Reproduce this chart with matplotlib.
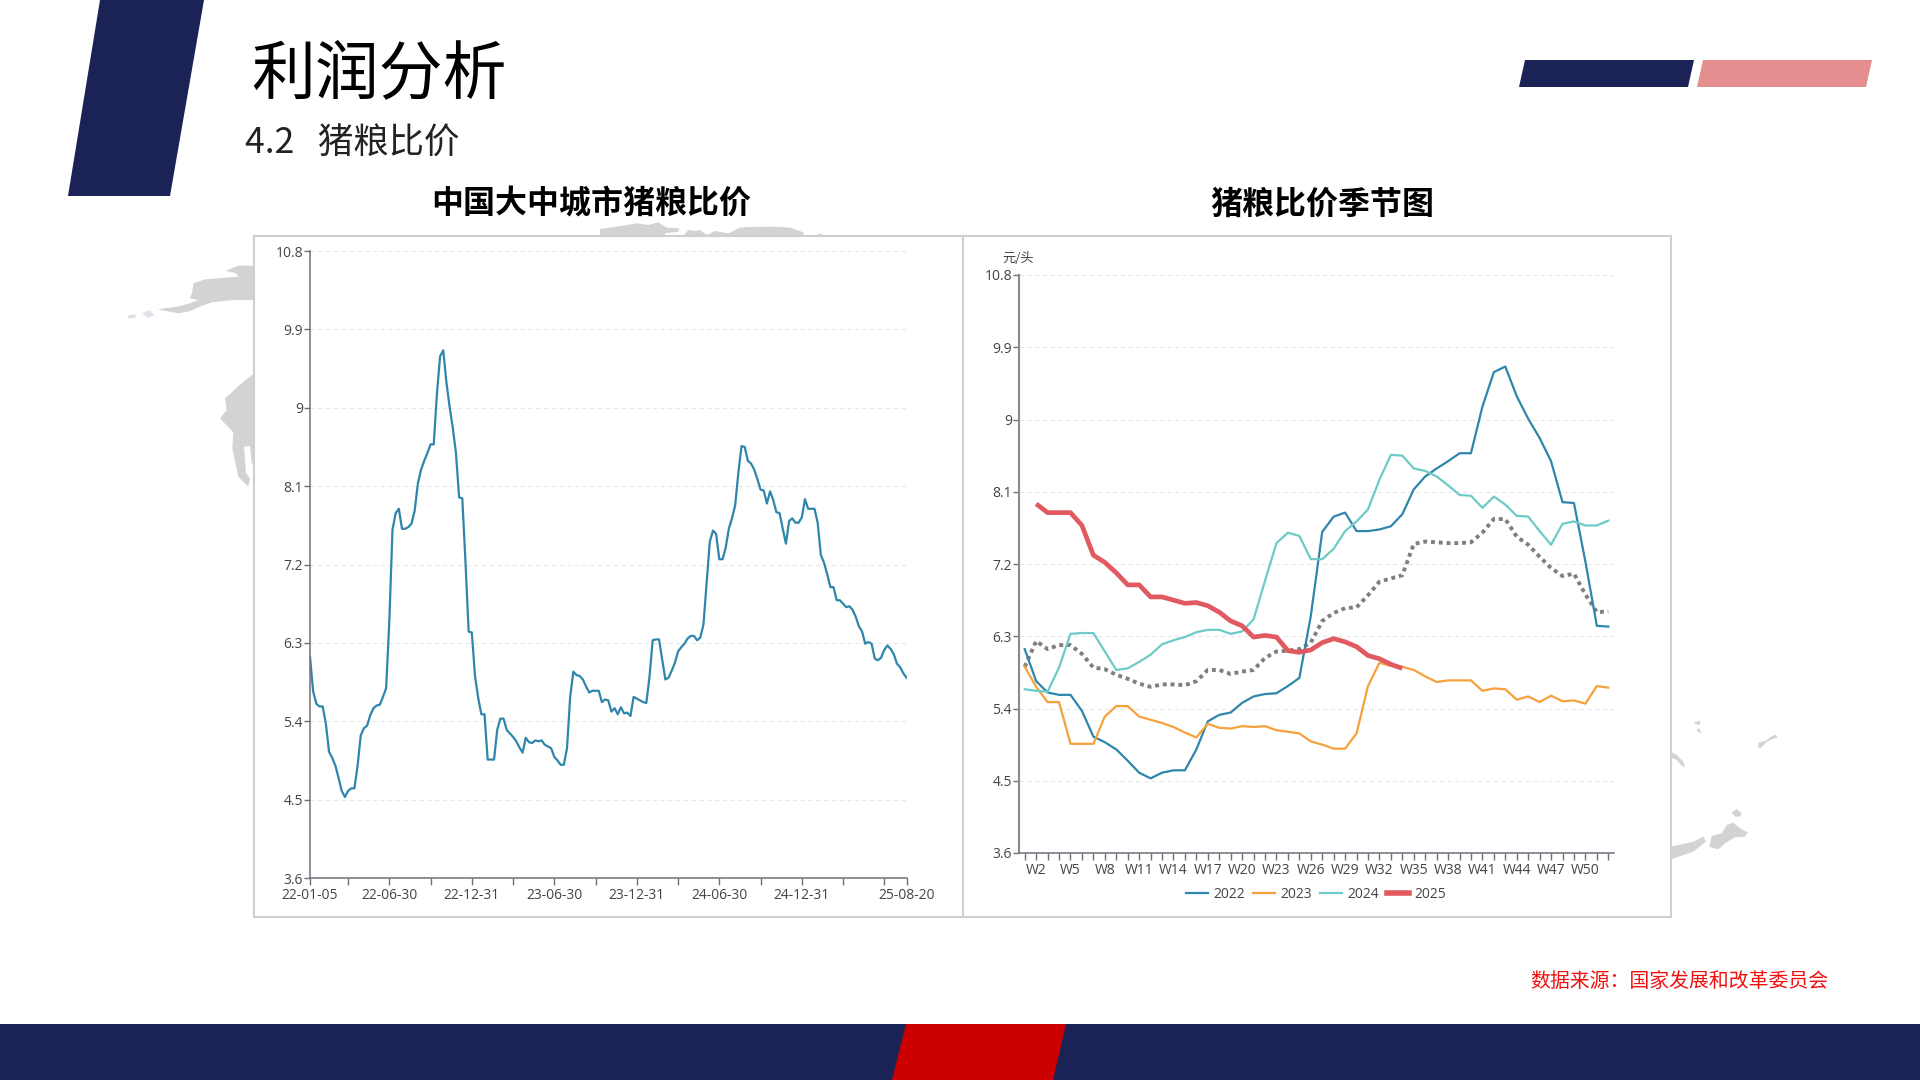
import matplotlib
matplotlib.use("Agg")
import matplotlib.pyplot as plt
from matplotlib.patches import Polygon, Rectangle
from matplotlib.lines import Line2D

plt.rcParams['font.family'] = ['Open Sans', 'Noto Sans CJK SC', 'DejaVu Sans']

# === DATA ===
WEEKS = [f"W{i}" for i in range(1, 53)]
Y_TICKS = [3.6, 4.5, 5.4, 6.3, 7.2, 8.1, 9, 9.9, 10.8]
Y_LABELS = ["3.6", "4.5", "5.4", "6.3", "7.2", "8.1", "9", "9.9", "10.8"]

y2022 = [6.14, 5.74, 5.60, 5.57, 5.57, 5.37, 5.05, 4.98, 4.89, 4.75, 4.60, 4.53, 4.60,
         4.63, 4.63, 4.89, 5.24, 5.32, 5.35, 5.47, 5.55, 5.58, 5.59, 5.68, 5.78, 6.55,
         7.60, 7.79, 7.84, 7.61, 7.61, 7.63, 7.67, 7.82, 8.13, 8.29, 8.39, 8.48, 8.58,
         8.58, 9.16, 9.59, 9.66, 9.29, 9.01, 8.77, 8.48, 7.97, 7.96, 7.23, 6.43, 6.42]
y2023 = [5.92, 5.67, 5.48, 5.48, 4.96, 4.96, 4.96, 5.30, 5.43, 5.43, 5.30, 5.26, 5.22,
         5.17, 5.10, 5.04, 5.21, 5.16, 5.15, 5.18, 5.17, 5.18, 5.13, 5.11, 5.09, 4.99,
         4.95, 4.90, 4.90, 5.09, 5.68, 5.97, 5.93, 5.92, 5.88, 5.80, 5.73, 5.75, 5.75,
         5.75, 5.62, 5.65, 5.64, 5.51, 5.55, 5.48, 5.56, 5.49, 5.50, 5.46, 5.68, 5.66]
y2024 = [5.64, 5.62, 5.61, 5.91, 6.33, 6.34, 6.34, 6.11, 5.88, 5.90, 5.98, 6.07, 6.20,
         6.25, 6.29, 6.35, 6.38, 6.38, 6.33, 6.36, 6.51, 6.99, 7.46, 7.59, 7.55, 7.26,
         7.26, 7.39, 7.61, 7.73, 7.88, 8.25, 8.56, 8.55, 8.39, 8.36, 8.29, 8.18, 8.06,
         8.05, 7.90, 8.04, 7.94, 7.80, 7.79, 7.61, 7.44, 7.70, 7.73, 7.68, 7.68, 7.74]
y2025 = [7.95, 7.84, 7.84, 7.84, 7.68, 7.31, 7.22, 7.09, 6.94, 6.94, 6.79, 6.79, 6.75,
         6.71, 6.72, 6.68, 6.60, 6.49, 6.43, 6.29, 6.31, 6.29, 6.12, 6.10, 6.13, 6.22,
         6.27, 6.23, 6.17, 6.06, 6.02, 5.95, 5.90]
y_mean = [5.92, 6.24, 6.14, 6.19, 6.19, 6.08, 5.91, 5.89, 5.82, 5.77, 5.71, 5.67, 5.70,
          5.70, 5.69, 5.74, 5.88, 5.88, 5.83, 5.86, 5.88, 6.03, 6.11, 6.12, 6.14, 6.22,
          6.49, 6.59, 6.65, 6.66, 6.81, 6.98, 7.02, 7.06, 7.45, 7.48, 7.47, 7.46, 7.46,
          7.47, 7.59, 7.76, 7.76, 7.54, 7.44, 7.29, 7.15, 7.05, 7.08, 6.82, 6.60, 6.61]

# the long chart is the same weekly series end to end
ratio = y2022 + y2023 + y2024 + y2025
DATE_TICKS = [0, 12, 25, 38, 51, 64, 77, 90, 103, 116, 129, 142, 155, 168, 181, 188]
DATE_LABELS = {0: "22-01-05", 25: "22-06-30", 51: "22-12-31", 77: "23-06-30",
               103: "23-12-31", 129: "24-06-30", 155: "24-12-31", 188: "25-08-20"}

# === COLORS ===
NAVY = "#1B2255"
RED = "#CC0000"
PINK = "#E58E90"
MAP_GRAY = "#D3D3D5"
BLUE = "#2E86AB"
ORANGE = "#F7A13C"
TEAL = "#6CCBC6"
CORAL = "#E05A60"
TEXT = "#444444"
AXIS = "#6E7079"
GRID = "#E6E8EE"

W, H = 1920, 1080
fig = plt.figure(figsize=(19.2, 10.8), dpi=100, facecolor="white")

# pixel canvas for the slide furniture
bg = fig.add_axes([0, 0, 1, 1])
bg.set_xlim(0, W)
bg.set_ylim(H, 0)
bg.set_axis_off()


def poly(points, color, z=1):
    bg.add_patch(Polygon(points, closed=True, facecolor=color, edgecolor="none", zorder=z))


def crop_poly(points, x0, y0, color=MAP_GRAY):
    poly([(x0 + x / 3, y0 + y / 3) for x, y in points], color)


# === MAP FRAGMENTS ===
crop_poly([(347, 62), (385, 47), (430, 47), (430, 150), (370, 150), (305, 157), (265, 172),
           (240, 183), (205, 190), (143, 178), (200, 170), (240, 160), (265, 150), (240, 145),
           (247, 125), (250, 100), (285, 88), (385, 80), (378, 70)], 110, 250)
crop_poly([(97, 190), (118, 180), (133, 195), (115, 204)], 110, 250, "#E0E0EA")
crop_poly([(52, 197), (75, 193), (78, 203), (55, 206)], 110, 250, "#E0E0EA")
crop_poly([(430, 372), (395, 400), (345, 445), (350, 480), (330, 505), (370, 547), (367, 595),
           (385, 680), (415, 710), (420, 685), (408, 670), (402, 590), (420, 588), (425, 640),
           (430, 640)], 110, 250)
crop_poly([(33, 155), (50, 165), (70, 185), (75, 203), (65, 197), (50, 180), (33, 172)], 1660, 700)
crop_poly([(100, 68), (120, 62), (120, 75), (108, 73)], 1660, 700)
crop_poly([(110, 88), (118, 85), (123, 100), (115, 97)], 1660, 700)
crop_poly([(295, 128), (318, 122), (330, 112), (345, 104), (354, 112), (335, 118), (318, 128),
           (300, 146), (295, 142)], 1660, 700)
crop_poly([(215, 338), (230, 327), (245, 340), (240, 350), (225, 350)], 1660, 700)
crop_poly([(155, 408), (185, 400), (200, 375), (220, 368), (240, 385), (263, 397), (255, 410),
           (225, 412), (195, 430), (175, 448), (148, 440)], 1660, 700)
crop_poly([(33, 440), (100, 425), (130, 410), (138, 425), (100, 455), (70, 465), (33, 478)], 1660, 700)
crop_poly([(0, 42), (50, 35), (110, 25), (145, 30), (175, 22), (200, 38), (238, 40), (235, 50),
           (195, 55), (195, 62), (0, 62)], 600, 215)
crop_poly([(250, 62), (265, 45), (285, 48), (300, 45), (320, 60), (345, 48), (385, 55), (420, 38),
           (445, 36), (520, 35), (570, 38), (610, 52), (610, 62)], 600, 215)
crop_poly([(650, 62), (660, 55), (672, 62)], 600, 215)

# === SLIDE SHAPES ===
poly([(100, 0), (204, 0), (170, 196), (68, 196)], NAVY)
poly([(1525, 60), (1694, 60), (1688, 87), (1519, 87)], NAVY)
poly([(1703, 60), (1872, 60), (1866, 87), (1697, 87)], PINK)
bg.add_patch(Rectangle((0, 1024), W, 56, facecolor=NAVY, edgecolor="none", zorder=1))
poly([(906, 1024), (1066, 1024), (1053, 1080), (892, 1080)], RED, 2)

# chart panels
for x0, x1 in [(254, 962.5), (962.5, 1670.5)]:
    bg.add_patch(Rectangle((x0, 235.5), x1 - x0, 681.5, facecolor="white",
                           edgecolor="#CFCFCF", linewidth=1.5, zorder=3))

# === TEXT ===
bg.text(251, 75, "利润分析", fontsize=46, color="black", va="center", ha="left", family=['Noto Sans CJK SC'])
bg.text(245, 144, "4.2   猪粮比价", fontsize=25.5, color="#222222", va="center", ha="left", family=['Noto Sans CJK SC'])
bg.text(591, 205, "中国大中城市猪粮比价", fontsize=23, color="black", va="center", ha="center",
        weight="bold", family=['Noto Sans CJK SC'])
bg.text(1322, 205, "猪粮比价季节图", fontsize=23, color="black", va="center", ha="center",
        weight="bold", family=['Noto Sans CJK SC'])
bg.text(1530, 981, "数据来源:国家发展和改革委员会".replace(":", "："), fontsize=14.3, color="#F01010",
        va="center", ha="left", family=['Noto Sans CJK SC'])


def pixel_axes(x0, x1, y_top, y_bottom):
    return fig.add_axes([x0 / W, 1 - y_bottom / H, (x1 - x0) / W, (y_bottom - y_top) / H], facecolor="none")


def style_axes(ax):
    ax.set_ylim(3.6, 10.8)
    ax.set_yticks(Y_TICKS, Y_LABELS)
    ax.grid(axis="y", color=GRID, linestyle=(0, (4, 3)), linewidth=0.8)
    ax.set_axisbelow(True)
    for side in ("top", "right"):
        ax.spines[side].set_visible(False)
    for side in ("left", "bottom"):
        ax.spines[side].set_color(AXIS)
        ax.spines[side].set_linewidth(1.1)
    ax.tick_params(axis="both", colors=AXIS, labelcolor=TEXT, labelsize=10, length=4, width=1, pad=1)
    ax.tick_params(axis="x", length=5, pad=2.5)


# === LEFT CHART ===
ax1 = pixel_axes(310, 906.5, 251, 878)
style_axes(ax1)
ax1.plot(range(len(ratio)), ratio, color=BLUE, linewidth=1.6)
ax1.set_xlim(0, 188)
ax1.set_xticks(DATE_TICKS, [DATE_LABELS.get(t, "") for t in DATE_TICKS])

# === RIGHT CHART ===
ax2 = pixel_axes(1019, 1614, 275, 853)
style_axes(ax2)
ax2.plot(range(52), y_mean, color="#7F7F7F", linewidth=2.8, linestyle=(0, (1, 1)), zorder=2)
ax2.plot(range(52), y2022, color=BLUE, linewidth=1.6, zorder=3)
ax2.plot(range(52), y2023, color=ORANGE, linewidth=1.6, zorder=3)
ax2.plot(range(52), y2024, color=TEAL, linewidth=1.6, zorder=3)
ax2.plot(range(1, 34), y2025, color=CORAL, linewidth=3.4, zorder=4, solid_capstyle="butt")
ax2.set_xlim(-0.5, 51.5)
ax2.set_xticks(range(52), [w if i % 3 == 1 else "" for i, w in enumerate(WEEKS)])
ax2.spines["left"].set_color("#8A8A8A")
ax2.spines["left"].set_linewidth(1.5)
ax2.text(1018 / W, 1 - 258 / H, "元/头", transform=fig.transFigure, fontsize=9.5, color=TEXT,
         ha="center", va="center", family=['Noto Sans CJK SC'])

handles = [Line2D([], [], color=BLUE, linewidth=1.6),
           Line2D([], [], color=ORANGE, linewidth=1.6),
           Line2D([], [], color=TEAL, linewidth=1.6),
           Line2D([], [], color=CORAL, linewidth=4)]
fig.legend(handles, ["2022", "2023", "2024", "2025"], ncol=4, frameon=False, fontsize=10,
           loc="center", bbox_to_anchor=(1316 / W, 1 - 894 / H), handlelength=1.55,
           handletextpad=0.4, columnspacing=0.6, labelcolor=TEXT)

fig.savefig("out.png", dpi=100)
